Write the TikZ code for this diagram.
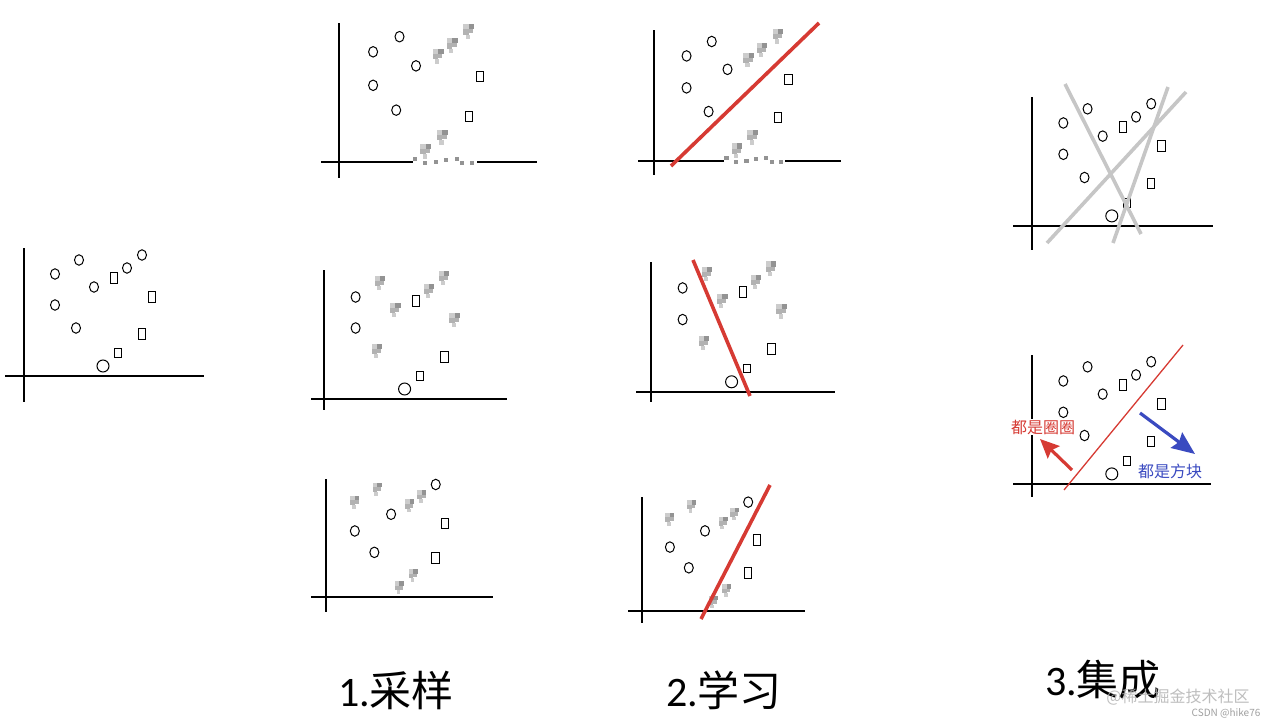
\documentclass[tikz,border=0pt]{standalone}
\usepackage{fontspec}
\newfontfamily\cjk{Noto Sans CJK SC}
\newfontfamily\numfont{Carlito}
\usetikzlibrary{arrows.meta,shapes.geometric}
\definecolor{fitred}{RGB}{214,58,51}
\definecolor{arrblue}{RGB}{58,74,192}
\tikzset{
    axis/.style ={line width=1.6pt},
    ring/.style ={ellipse, draw, line width=1pt, inner sep=0pt, minimum width=9pt, minimum height=10.5pt},
    bigring/.style ={ellipse, draw, line width=1pt, inner sep=0pt, minimum width=12pt, minimum height=12pt},
    box/.style ={rectangle, draw, line width=1pt, inner sep=0pt, minimum width=7.5pt, minimum height=10.5pt},
    smallbox/.style ={rectangle, draw, line width=1pt, inner sep=0pt, minimum width=6.5pt, minimum height=8.5pt},
    mosL/.style ={fill=gray!40},
    mosM/.style ={fill=gray!60},
    mosD/.style ={fill=gray!85},
    fitline/.style ={line width=3.6pt, draw=fitred},
    voteline/.style ={line width=3.6pt, draw=gray!45},
    caption/.style ={font=\fontsize{42}{48}\selectfont},
    redarr/.style ={draw=fitred, line width=3.2pt, -{Stealth[length=19pt,width=17pt,inset=3pt]}},
    bluearr/.style ={draw=arrblue, line width=3.2pt, -{Stealth[length=23pt,width=19pt,inset=3pt]}}}

\newcommand\drawaxes[6]{\draw[axis] (#1,#3) -- (#1,#4); \draw[axis] (#5,#2) -- (#6,#2);}
\newcommand\basepts[1]{%
    \coordinate (#1c1) at (31,-102);
    \coordinate (#1c2) at (55,-116);
    \coordinate (#1c3) at (31,-71);
    \coordinate (#1c4) at (70,-89);
    \coordinate (#1c5) at (52,-48);
    \coordinate (#1c6) at (103,-108);
    \coordinate (#1c7) at (118,-121);
    \coordinate (#1c8) at (79,-10);
    \coordinate (#1s1) at (90,-98);
    \coordinate (#1s2) at (128,-79);
    \coordinate (#1s3) at (118,-42);
    \coordinate (#1s4) at (94,-23);}
\newcommand\pixelate[1]{%
    \fill[mosL] ([shift={(-5,-7)}]#1) rectangle +(5,5);
    \fill[mosD] ([shift={(0,-7)}]#1) rectangle +(5,5);
    \fill[mosM] ([shift={(-5,-2)}]#1) rectangle +(5,5);
    \fill[mosM] ([shift={(0,-2)}]#1) rectangle +(4,4);
    \fill[mosL] ([shift={(-3,3)}]#1) rectangle +(4,4);}
% full data set
\newcommand\bagFull[1]{%
    \basepts{#1}
    \foreach \k in {1,...,7} \node[ring] (#1-o\k) at (#1c\k) {};
    \node[bigring] (#1-o8) at (#1c8) {};
    \foreach \k in {1,2,3} \node[box] (#1-b\k) at (#1s\k) {};
    \node[smallbox] (#1-b4) at (#1s4) {};}
% bootstrap samples
\newcommand\bagA[1]{%
    \basepts{#1}
    \foreach \k in {1,...,5} \node[ring] (#1-o\k) at (#1c\k) {};
    \foreach \k in {2,3} \node[box] (#1-b\k) at (#1s\k) {};
    \fill[white] (67,-3) rectangle (125,3);
    \foreach \p in {c6,c7,s1,c8,s4} \pixelate{#1\p};
    \foreach \x/\y in {69/-3,78/1,88/0,97/-2,107/-3,112/1,121/1} \fill[mosD] (\x-2,\y-2) rectangle +(4,4);}
\newcommand\bagB[1]{%
    \basepts{#1}
    \foreach \k in {1,3} \node[ring] (#1-o\k) at (#1c\k) {};
    \node[bigring] (#1-o8) at (#1c8) {};
    \foreach \k in {1,3} \node[box] (#1-b\k) at (#1s\k) {};
    \node[smallbox] (#1-b4) at (#1s4) {};
    \foreach \p in {c2,c4,c5,c6,c7,s2} \pixelate{#1\p};}
\newcommand\bagC[1]{%
    \basepts{#1}
    \foreach \k in {3,4,5,7} \node[ring] (#1-o\k) at (#1c\k) {};
    \foreach \k in {2,3} \node[box] (#1-b\k) at (#1s\k) {};
    \foreach \p in {c1,c2,c6,s1,c8,s4} \pixelate{#1\p};}

\begin{document}
\begin{tikzpicture}[x=1pt,y=-1pt]
    \useasboundingbox (0,0) rectangle (1280,728);
    % data
    \drawaxes{24}{376}{248}{402}{5}{204}
    \begin{scope}[shift={(24,376)}] \bagFull{P} \end{scope}
    % 1. sampling
    \drawaxes{339}{162}{23}{178}{321}{537}
    \begin{scope}[shift={(339,162)},xscale=1.1,yscale=1.08] \bagA{SA} \end{scope}
    \drawaxes{324}{399}{270}{410}{311}{507}
    \begin{scope}[shift={(324,399)},xscale=1.02] \bagB{SB} \end{scope}
    \drawaxes{326}{597}{479}{612}{311}{493}
    \begin{scope}[shift={(326,597)},scale=0.93] \bagC{SC} \end{scope}
    \node[caption] (stepA) at (396,690) {{\numfont 1.}{\cjk 采样}};
    % 2. learning
    \drawaxes{654}{161}{30}{175}{638}{841}
    \begin{scope}[shift={(654,161)},xscale=1.05,yscale=1.03] \bagA{LA} \end{scope}
    \drawaxes{651}{392}{262}{402}{636}{835}
    \begin{scope}[shift={(651,392)},scale=1.02] \bagB{LB} \end{scope}
    \drawaxes{642}{611}{497}{623}{628}{805}
    \begin{scope}[shift={(642,611)},scale=0.9] \bagC{LC} \end{scope}
    \coordinate (fitA1) at (671,166); \coordinate (fitA2) at (819,23);
    \coordinate (fitB1) at (693,260); \coordinate (fitB2) at (750,396);
    \coordinate (fitC1) at (701,619); \coordinate (fitC2) at (770,485);
    \draw[fitline] (fitA1) -- (fitA2);
    \draw[fitline] (fitB1) -- (fitB2);
    \draw[fitline] (fitC1) -- (fitC2);
    \node[caption] (stepB) at (724,690) {{\numfont 2.}{\cjk 学习}};
    % 3. ensemble
    \drawaxes{1032}{226}{97}{250}{1013}{1213}
    \begin{scope}[shift={(1032,226)},scale=1.01] \bagFull{EA} \end{scope}
    \coordinate (vote11) at (1065,84); \coordinate (vote12) at (1141,234);
    \coordinate (vote21) at (1047,243); \coordinate (vote22) at (1186,92);
    \coordinate (vote31) at (1168,87); \coordinate (vote32) at (1113,243);
    \foreach \i in {1,2,3} \draw[voteline] (vote\i1) -- (vote\i2);
    \drawaxes{1032}{484}{355}{497}{1013}{1211}
    \begin{scope}[shift={(1032,484)},scale=1.01] \bagFull{EB} \end{scope}
    \coordinate (sep1) at (1064,490); \coordinate (sep2) at (1183,345);
    \draw[draw=fitred, line width=1.3pt] (sep1) -- (sep2);
    \node[text=fitred, fill=white, inner sep=1pt, font=\cjk\fontsize{16}{18}\selectfont] (circLbl) at (1043,427) {都是圈圈};
    \node[text=arrblue, font=\cjk\fontsize{16}{18}\selectfont] (sqLbl) at (1170,471) {都是方块};
    \coordinate (redS) at (1072,470); \coordinate (redE) at (1040,439);
    \coordinate (blueS) at (1140,413); \coordinate (blueE) at (1195,454);
    \draw[redarr] (redS) -- (redE);
    \draw[bluearr] (blueS) -- (blueE);
    \node[caption] (stepC) at (1103,680) {{\numfont 3.}{\cjk 集成}};
    % watermarks
    \node[text=gray!60, opacity=0.85, font=\cjk\fontsize{16}{18}\selectfont] (wmA) at (1178,697) {@稀土掘金技术社区};
    \node[text=gray!75, font=\cjk\fontsize{10}{12}\selectfont] (wmB) at (1226,713) {CSDN @hike76};
\end{tikzpicture}
\end{document}
